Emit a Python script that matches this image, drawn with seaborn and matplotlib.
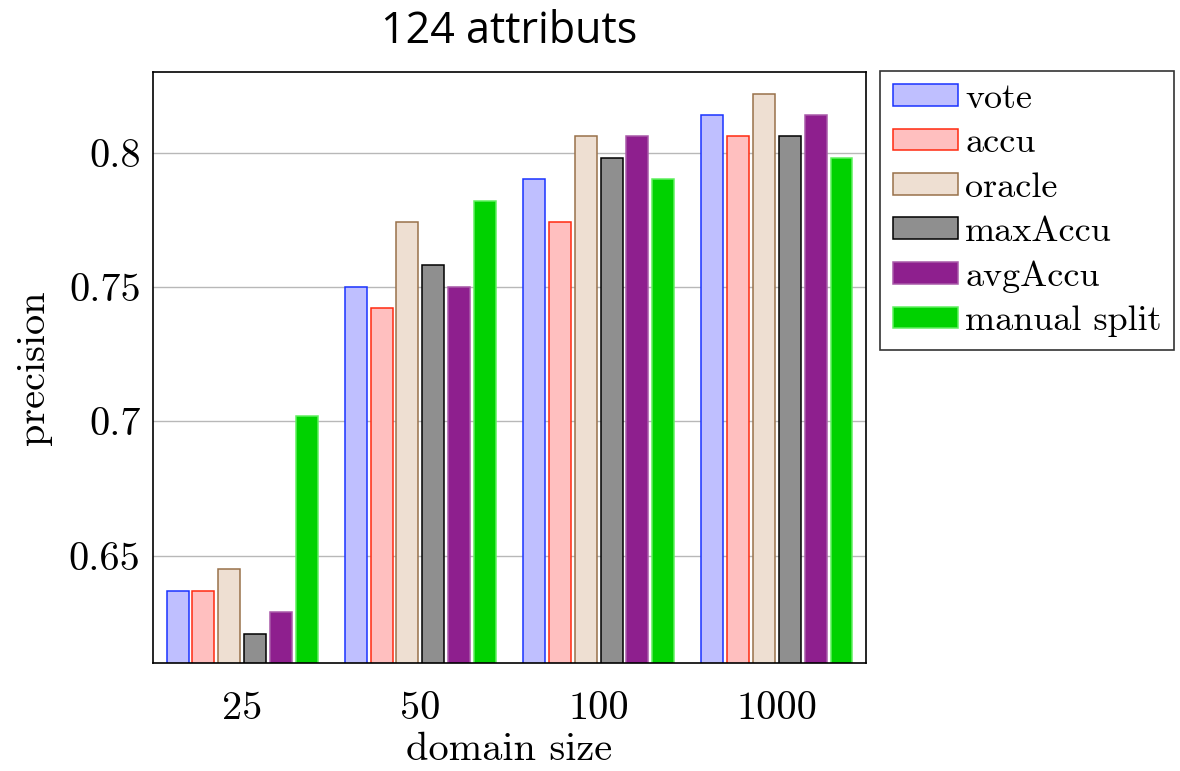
import pandas as pd
import seaborn as sns
import matplotlib.pyplot as plt

# data
domain_sizes = ['25', '50', '100', '1000']
methods = ['vote', 'accu', 'oracle', 'maxAccu', 'avgAccu', 'manual split']
vote = [0.637, 0.750, 0.790, 0.814]
accu = [0.637, 0.742, 0.774, 0.806]
oracle = [0.645, 0.774, 0.806, 0.822]
max_accu = [0.621, 0.758, 0.798, 0.806]
avg_accu = [0.629, 0.750, 0.806, 0.814]
manual_split = [0.702, 0.782, 0.790, 0.798]
y_ticks = [0.65, 0.7, 0.75, 0.8]
y_tick_labels = ['0.65', '0.7', '0.75', '0.8']

fill_colors = ['#bfbfff', '#ffbfbf', '#eedfd2', '#8f8f8f', '#8e1f8e', '#00d200']
edge_colors = ['#1a33ff', '#ff2a10', '#99714a', '#000000', '#a95aa9', '#60f060']

series = [vote, accu, oracle, max_accu, avg_accu, manual_split]
rows = []
for name, vals in zip(methods, series):
    for size, v in zip(domain_sizes, vals):
        rows.append({'domain size': size, 'method': name, 'precision': v})
df = pd.DataFrame(rows)

sns.set_style('white')
plt.rcParams['font.family'] = ['cmr10', 'DejaVu Serif']
plt.rcParams['axes.unicode_minus'] = False
plt.rcParams['mathtext.fontset'] = 'cm'
plt.rcParams['text.color'] = 'black'
plt.rcParams['axes.labelcolor'] = 'black'
plt.rcParams['xtick.color'] = 'black'
plt.rcParams['ytick.color'] = 'black'

fig = plt.figure(figsize=(11.8, 7.71), dpi=100)
ax = fig.add_axes([0.1297, 0.140, 0.6042, 0.7666])

sns.barplot(data=df, x='domain size', y='precision', hue='method',
            order=domain_sizes, hue_order=methods,
            palette=fill_colors, width=0.87, gap=0.15,
            saturation=1, ax=ax, errorbar=None)

for cont, ec in zip(ax.containers, edge_colors):
    for bar in cont:
        bar.set_edgecolor(ec)
        bar.set_linewidth(1.1)

ax.set_xlim(-0.5, 3.5)
ax.set_ylim(0.61, 0.83)
ax.set_yticks(y_ticks)
ax.set_yticklabels(y_tick_labels)
ax.yaxis.grid(True, color='#b8b8b8', linewidth=1.0)
ax.set_axisbelow(True)
ax.tick_params(axis='y', direction='in', length=5, color='#808080',
               labelcolor='black', labelsize=29, pad=9)
ax.tick_params(axis='x', length=0, labelcolor='black', labelsize=29, pad=20)
for s in ax.spines.values():
    s.set_color('black')
    s.set_linewidth(1.2)

ax.set_xlabel('domain size', fontsize=29, labelpad=4)
ax.set_ylabel('precision', fontsize=29, labelpad=12)
ax.set_title('124 attributs', fontsize=31, color='black',
             family=['Open Sans', 'DejaVu Sans'], pad=21)

handles, labels = ax.get_legend_handles_labels()
for h, ec in zip(handles, edge_colors):
    h.set_edgecolor(ec)
    h.set_linewidth(1.1)
leg = ax.legend(handles, labels, loc='upper left', bbox_to_anchor=(1.02, 1.002),
                fontsize=26, frameon=True, fancybox=False, edgecolor='black',
                handlelength=1.8, handleheight=0.55, handletextpad=0.2,
                labelspacing=0.35, borderpad=0.35, borderaxespad=0)
leg.get_frame().set_linewidth(1.2)
for t in leg.get_texts():
    t.set_color('black')

plt.savefig('out.png', dpi=100)
plt.close()
